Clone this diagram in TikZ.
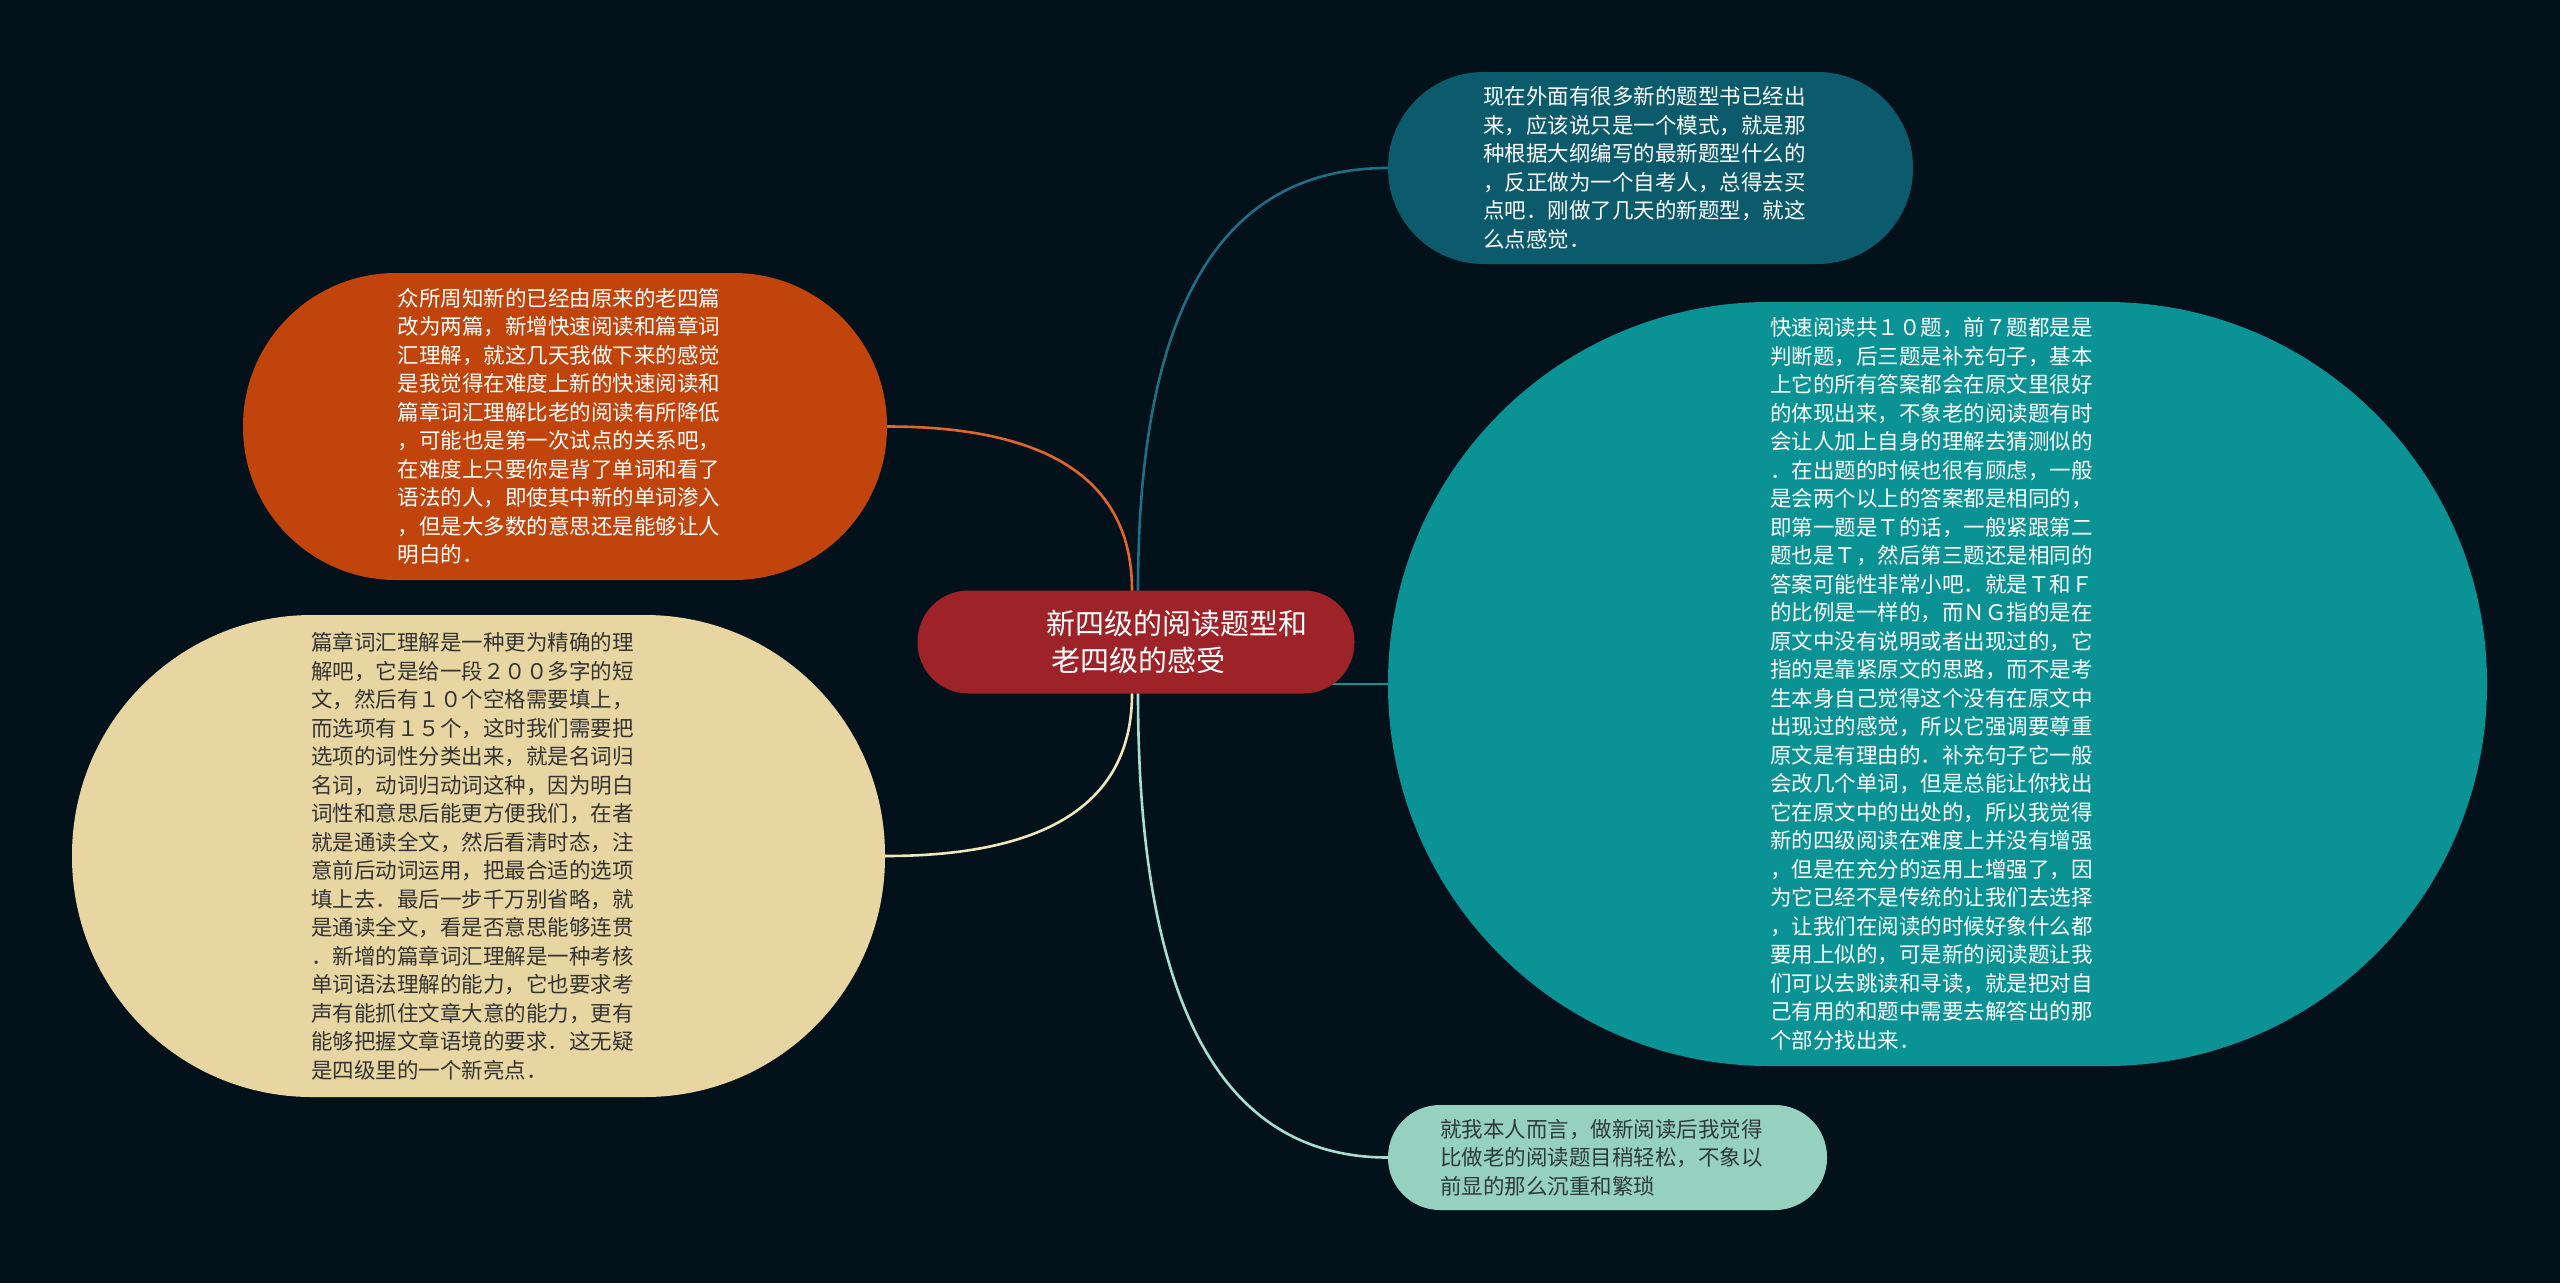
\documentclass[tikz,border=0pt]{standalone}
\usepackage{fontspec}
\newfontfamily\cjk{Noto Sans CJK SC}
\usetikzlibrary{backgrounds}
\definecolor{bgc}{HTML}{03111A}
\definecolor{ctr}{HTML}{9E2329}
\definecolor{tealdark}{HTML}{0B5B6C}
\definecolor{orangec}{HTML}{C0440B}
\definecolor{beigec}{HTML}{E8D6A2}
\definecolor{tealc}{HTML}{0A9295}
\definecolor{mintc}{HTML}{95D1BE}
\definecolor{lorange}{HTML}{E0662A}
\definecolor{ltealdark}{HTML}{1E6E84}
\definecolor{lbeige}{HTML}{F1E6BB}
\definecolor{lmint}{HTML}{A6DFD0}
\definecolor{lteal}{HTML}{139498}
\definecolor{darktext}{HTML}{333333}
\definecolor{minttext}{HTML}{2E3B37}
\begin{document}
\begin{tikzpicture}[x=1pt,y=-1pt,
  bubble/.style={rectangle, inner sep=0pt, align=left, text width=334.5pt,
    font=\cjk\fontsize{21.5}{28.5}\selectfont},
  link/.style={line width=2.6pt, line cap=round}
]
\useasboundingbox (0,0) rectangle (2560,1283);
\begin{scope}[on background layer]
\fill[bgc] (0,0) rectangle (2560,1283);
\end{scope}

\node[rectangle, inner sep=0pt, fill=ctr, minimum width=437pt, minimum height=103pt, rounded corners=51pt] (root) at (1136,642) {};
\node[font=\cjk\fontsize{29}{37}\selectfont, align=left, text=white, anchor=west, inner sep=0pt] (roottxt) at (1046,642) {新四级的阅读题型和\\\hspace*{5pt}老四级的感受};

\node[bubble, fill=tealdark, text=white, minimum width=525pt, minimum height=192pt, rounded corners=95.5pt] (news) at (1650.5,168) {现在外面有很多新的题型书已经出\\来，应该说只是一个模式，就是那\\种根据大纲编写的最新题型什么的\\，反正做为一个自考人，总得去买\\点吧．刚做了几天的新题型，就这\\么点感觉．};

\node[bubble, fill=orangec, text=white, minimum width=644pt, minimum height=307pt, rounded corners=153pt] (orange) at (565,426.5) {众所周知新的已经由原来的老四篇\\改为两篇，新增快速阅读和篇章词\\汇理解，就这几天我做下来的感觉\\是我觉得在难度上新的快速阅读和\\篇章词汇理解比老的阅读有所降低\\，可能也是第一次试点的关系吧，\\在难度上只要你是背了单词和看了\\语法的人，即使其中新的单词渗入\\，但是大多数的意思还是能够让人\\明白的．};

\node[bubble, fill=beigec, text=darktext, minimum width=813pt, minimum height=482pt, rounded corners=240pt] (beige) at (478.5,856) {篇章词汇理解是一种更为精确的理\\解吧，它是给一段２００多字的短\\文，然后有１０个空格需要填上，\\而选项有１５个，这时我们需要把\\选项的词性分类出来，就是名词归\\名词，动词归动词这种，因为明白\\词性和意思后能更方便我们，在者\\就是通读全文，然后看清时态，注\\意前后动词运用，把最合适的选项\\填上去．最后一步千万别省略，就\\是通读全文，看是否意思能够连贯\\．新增的篇章词汇理解是一种考核\\单词语法理解的能力，它也要求考\\声有能抓住文章大意的能力，更有\\能够把握文章语境的要求．这无疑\\是四级里的一个新亮点．};

\node[bubble, fill=tealc, text=white, minimum width=1099pt, minimum height=764pt, rounded corners=381pt] (fast) at (1937.5,684) {快速阅读共１０题，前７题都是是\\判断题，后三题是补充句子，基本\\上它的所有答案都会在原文里很好\\的体现出来，不象老的阅读题有时\\会让人加上自身的理解去猜测似的\\．在出题的时候也很有顾虑，一般\\是会两个以上的答案都是相同的，\\即第一题是Ｔ的话，一般紧跟第二\\题也是Ｔ，然后第三题还是相同的\\答案可能性非常小吧．就是Ｔ和Ｆ\\的比例是一样的，而ＮＧ指的是在\\原文中没有说明或者出现过的，它\\指的是靠紧原文的思路，而不是考\\生本身自己觉得这个没有在原文中\\出现过的感觉，所以它强调要尊重\\原文是有理由的．补充句子它一般\\会改几个单词，但是总能让你找出\\它在原文中的出处的，所以我觉得\\新的四级阅读在难度上并没有增强\\，但是在充分的运用上增强了，因\\为它已经不是传统的让我们去选择\\，让我们在阅读的时候好象什么都\\要用上似的，可是新的阅读题让我\\们可以去跳读和寻读，就是把对自\\己有用的和题中需要去解答出的那\\个部分找出来．};

\node[bubble, fill=mintc, text=minttext, minimum width=439pt, minimum height=105pt, rounded corners=52pt] (mint) at (1607.5,1157.5) {就我本人而言，做新阅读后我觉得\\比做老的阅读题目稍轻松，不象以\\前显的那么沉重和繁琐};

\coordinate (faststart) at (1300,684);

\begin{scope}[on background layer]
\draw[link, lorange] ([xshift=-4pt]root.north) .. controls +(0,-109) and +(163,0) .. (orange.east);
\draw[link, ltealdark] ([xshift=2pt]root.north) .. controls +(0,-282) and +(-167,0) .. (news.west);
\draw[link, lbeige] ([xshift=-4pt]root.south) .. controls +(0,108) and +(164,0) .. (beige.east);
\draw[link, lmint] ([xshift=2pt]root.south) .. controls +(0,309) and +(-167,0) .. (mint.west);
\draw[link, lteal] (faststart) -- (fast.west);
\end{scope}
\end{tikzpicture}
\end{document}
